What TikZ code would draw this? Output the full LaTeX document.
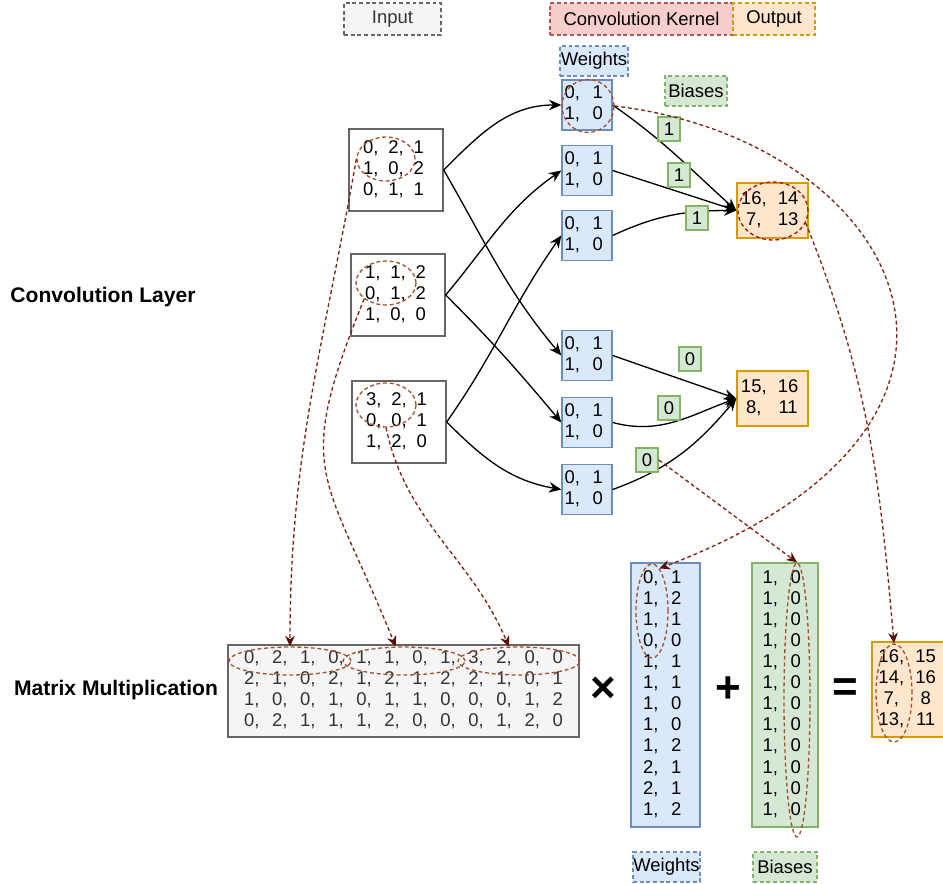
\documentclass[tikz,border=0pt]{standalone}
\usepackage{fontspec}
\setmainfont{Liberation Sans}
\usetikzlibrary{arrows.meta,shapes.geometric}
\definecolor{ingray}{HTML}{666666}
\definecolor{infill}{HTML}{F5F5F5}
\definecolor{kfill}{HTML}{F8CECC}
\definecolor{kdraw}{HTML}{B85450}
\definecolor{ofill}{HTML}{FFE6CC}
\definecolor{odraw}{HTML}{D79B00}
\definecolor{wfill}{HTML}{DAE8FC}
\definecolor{wdraw}{HTML}{6C8EBF}
\definecolor{bfill}{HTML}{D5E8D4}
\definecolor{bdraw}{HTML}{82B366}
\definecolor{ellc}{HTML}{A0522D}
\definecolor{ellred}{HTML}{A01818}
\definecolor{linkc}{HTML}{7A2410}
\definecolor{tipc}{HTML}{5A0E00}
\definecolor{txtgray}{HTML}{333333}
\newcommand{\numgrid}[2]{{\setlength{\tabcolsep}{#1}\begin{tabular}{@{}*{12}{c}@{}}#2\end{tabular}}}

\begin{document}
\begin{tikzpicture}[x=0.02cm,y=0.02cm,
  font=\fontsize{10.5}{12}\selectfont,
  box/.style={draw,line width=0.8pt,inner sep=0pt},
  legend/.style={box,dash pattern=on 2.2pt off 1.6pt,minimum height=0.64cm},
  inbox/.style={box,draw=ingray,fill=white,minimum width=1.88cm,minimum height=1.64cm},
  kbox/.style={box,draw=wdraw,fill=wfill,minimum size=1cm},
  obox/.style={box,draw=odraw,fill=ofill,minimum width=1.42cm,minimum height=1.1cm},
  biasbox/.style={box,draw=bdraw,fill=bfill,minimum width=0.44cm,minimum height=0.48cm},
  ell/.style={ellipse,draw=ellc,line width=0.75pt,dash pattern=on 2.2pt off 1.6pt,inner sep=0pt},
  conn/.style={-{Stealth[length=7pt,width=6pt]},line width=0.75pt},
  link/.style={draw=linkc,line width=0.75pt,dash pattern=on 2.2pt off 1.6pt,
    -{Stealth[length=6pt,width=5.5pt,color=tipc]}},
  op/.style={font=\fontsize{25}{25}\bfseries}]
\useasboundingbox (0,0) rectangle (943,-884);

% legend
\node[legend,draw=ingray,fill=infill,text=txtgray,minimum width=1.94cm] (leg-in) at (392.5,-19) {Input};
\node[legend,draw=kdraw,fill=kfill,minimum width=3.66cm] (leg-k) at (641.5,-19) {Convolution Kernel};
\node[legend,draw=odraw,fill=ofill,minimum width=1.64cm] (leg-out) at (774,-19) {Output};
\node[legend,draw=wdraw,fill=wfill,minimum width=1.36cm,minimum height=0.6cm] (leg-w) at (594,-61) {Weights};
\node[legend,draw=bdraw,fill=bfill,minimum width=1.24cm,minimum height=0.6cm] (leg-b) at (696,-91) {Biases};

\node[font=\fontsize{12}{14}\bfseries] (t-conv) at (103,-297) {Convolution Layer};
\node[font=\fontsize{12}{14}\bfseries] (t-mat) at (116,-690) {Matrix Multiplication};

% convolution layer
\node[inbox] (in1) at (396,-170) {\numgrid{2.8pt}{0,&2,&1\\1,&0,&2\\0,&1,&1}};
\node[inbox] (in2) at (398,-295) {\numgrid{2.8pt}{1,&1,&2\\0,&1,&2\\1,&0,&0}};
\node[inbox] (in3) at (399,-422) {\numgrid{2.8pt}{3,&2,&1\\0,&0,&1\\1,&2,&0}};
\foreach \i/\y in {1/105,2/170.5,3/235.5,4/355.5,5/422.5,6/489.5}
  \node[kbox] (k\i) at (587,-\y) {\numgrid{3.6pt}{0,&1\\1,&0}};
\node[obox] (out1) at (772.5,-210.5) {\numgrid{3.2pt}{16,&14\\7,&13}};
\node[obox] (out2) at (772.5,-398.5) {\numgrid{3.2pt}{15,&16\\8,&11}};

\draw[conn] (in1.east) to[out=45,in=180] (k1.west);
\draw[conn] (in1.east) to[out=-60,in=130] (k4.west);
\draw[conn] (in2.east) to[out=50,in=215] (k2.west);
\draw[conn] (in2.east) to[out=-45,in=130] (k5.west);
\draw[conn] (in3.east) to[out=55,in=235] (k3.west);
\draw[conn] (in3.east) to[out=-45,in=170] (k6.west);

\draw[conn] (k1.east) to[out=-35,in=138] (out1.west);
\draw[conn] (k2.east) -- (out1.west);
\draw[conn] (k3.east) to[out=25,in=180] (out1.west);
\draw[conn] (k4.east) -- (out2.west);
\draw[conn] (k5.east) to[out=-15,in=200] (out2.west);
\draw[conn] (k6.east) to[out=20,in=230] (out2.west);

\foreach \i/\x/\y/\v in {1/669/129/1,2/679/175/1,3/697/218/1,4/690/359/0,5/669/408/0,6/647/460/0}
  \node[biasbox] (b\i) at (\x,-\y) {\v};

% matrix multiplication
\node[box,draw=ingray,fill=infill,text=txtgray,minimum width=7.02cm,minimum height=1.84cm] (mat) at (403.5,-691)
  {\numgrid{3.6pt}{0,&2,&1,&0,&1,&1,&0,&1,&3,&2,&0,&0\\
  2,&1,&0,&2,&1,&2,&1,&2,&2,&1,&0,&1\\
  1,&0,&0,&1,&0,&1,&1,&0,&0,&0,&1,&2\\
  0,&2,&1,&1,&1,&2,&0,&0,&0,&1,&2,&0}};
\node[box,draw=wdraw,fill=wfill,minimum width=1.38cm,minimum height=5.28cm] (wcol) at (665.5,-695)
  {\numgrid{3.6pt}{0,&1\\1,&2\\1,&1\\0,&0\\1,&1\\1,&1\\1,&0\\1,&0\\1,&2\\2,&1\\2,&1\\1,&2}};
\node[box,draw=bdraw,fill=bfill,minimum width=1.32cm,minimum height=5.28cm] (bcol) at (785,-695)
  {\numgrid{3.6pt}{1,&0\\1,&0\\1,&0\\1,&0\\1,&0\\1,&0\\1,&0\\1,&0\\1,&0\\1,&0\\1,&0\\1,&0}};
\node[box,draw=odraw,fill=ofill,minimum width=1.52cm,minimum height=1.9cm] (res) at (910,-689.5)
  {\numgrid{3.2pt}{16,&15\\14,&16\\7,&8\\13,&11}};
\node[op] (times) at (603,-690) {×};
\node[op] (plus) at (728,-690) {+};
\node[op] (equals) at (845,-690) {=};

\node[legend,draw=wdraw,fill=wfill,minimum width=1.34cm,minimum height=0.6cm] (leg-w2) at (666.5,-867) {Weights};
\node[legend,draw=bdraw,fill=bfill,minimum width=1.28cm,minimum height=0.6cm] (leg-b2) at (785,-867) {Biases};

% highlighted parts
\node[ell,minimum width=1.16cm,minimum height=0.88cm] (e-in1) at (386,-159) {};
\node[ell,minimum width=1.2cm,minimum height=0.88cm] (e-in2) at (386,-283) {};
\node[ell,minimum width=1.2cm,minimum height=0.88cm] (e-in3) at (386,-405) {};
\node[ell,minimum width=1.04cm,minimum height=1.06cm] (e-k1) at (588,-106) {};
\node[ell,draw=ellred,minimum width=1.4cm,minimum height=1.16cm] (e-out1) at (773,-211) {};
\foreach \i/\x in {1/290,2/404,3/519}
  \node[ell,minimum width=2.44cm,minimum height=0.56cm] (e-row\i) at (\x,-661) {};
\node[ell,minimum width=0.64cm,minimum height=1.88cm] (e-wcol) at (652,-611) {};
\node[ell,minimum width=0.52cm,minimum height=5.48cm] (e-bcol) at (797,-700) {};
\node[ell,minimum width=0.72cm,minimum height=1.96cm] (e-res) at (894,-693) {};

\draw[link] (e-in1.west) to[out=-100,in=90] (e-row1.north);
\draw[link] (e-in2.216) to[out=-112,in=112,looseness=1.4] (e-row2.120);
\draw[link] (e-in3.south) to[out=-78,in=113] (e-row3.125);
\draw[link] (e-k1.east) .. controls (900,-140) and (1050,-420) .. (e-wcol.80);
\draw[link] (e-out1.-20) to[out=-68,in=95] (e-res.north);
\draw[link] (b6.east) -- (e-bcol.north);
\end{tikzpicture}
\end{document}
